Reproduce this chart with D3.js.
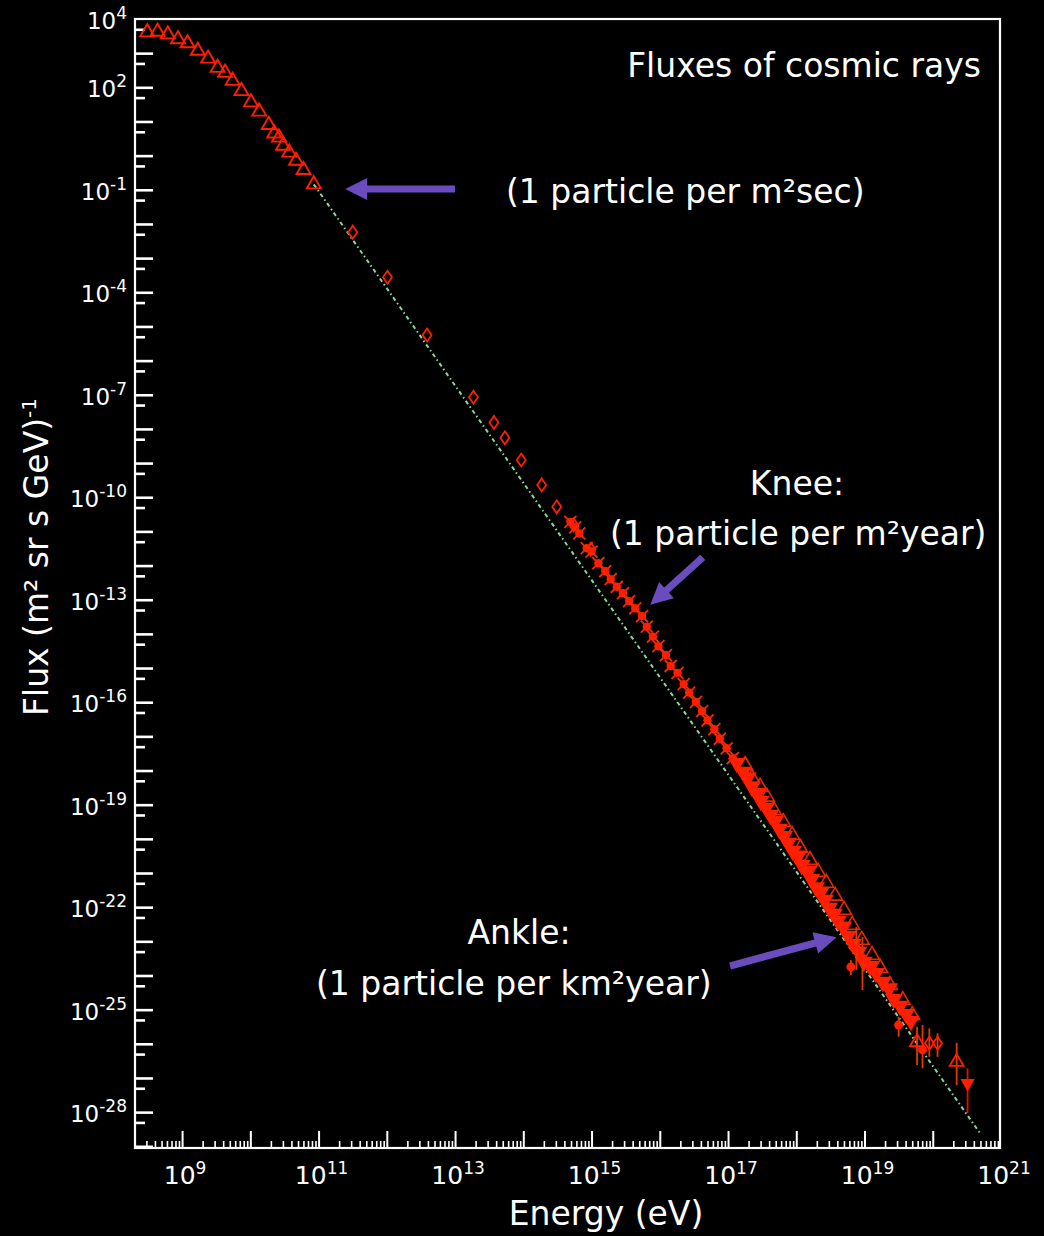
<!DOCTYPE html>
<html><head><meta charset="utf-8">
<script src="https://cdn.jsdelivr.net/npm/d3@7"></script>
<style>html,body{margin:0;padding:0;background:#000;} svg{display:block;}</style>
</head><body>
<svg id="chart" width="1044" height="1236"></svg>
<script>
// ---------- data (log10 of energy in eV, log10 of flux) ----------
const lowEnergyLogE = [8.49, 8.64, 8.79, 8.94, 9.08, 9.23, 9.38, 9.52, 9.63, 9.74, 9.87, 10.01, 10.13, 10.27, 10.35, 10.42, 10.48, 10.57, 10.67, 10.78, 10.93];
const lowEnergyLogFlux = [3.61, 3.63, 3.55, 3.41, 3.29, 3.07, 2.84, 2.57, 2.43, 2.19, 1.89, 1.56, 1.29, 0.90, 0.65, 0.53, 0.29, 0.09, -0.15, -0.42, -0.84];

const directLogE = [11.50, 12.01, 12.59, 13.27, 13.57, 13.73, 13.97, 14.27, 14.49, 14.74, 14.99];
const directLogFlux = [-2.24, -3.56, -5.25, -7.07, -7.81, -8.26, -8.91, -9.64, -10.28, -10.81, -11.52];

const airShowerLogE = [14.69, 14.76, 14.82, 14.93, 15.00, 15.10, 15.20, 15.28, 15.37, 15.46, 15.55, 15.64, 15.74, 15.81, 15.90, 15.98, 16.09, 16.16, 16.26, 16.35, 16.43, 16.53, 16.62, 16.70, 16.80, 16.88, 16.98, 17.07];
const airShowerLogFlux = [-10.72, -10.88, -11.06, -11.49, -11.59, -11.93, -12.16, -12.40, -12.62, -12.81, -13.04, -13.25, -13.48, -13.79, -14.08, -14.36, -14.62, -14.94, -15.14, -15.47, -15.72, -15.99, -16.26, -16.53, -16.79, -17.07, -17.35, -17.64];

const clusterFilledLogE = [17.13, 17.22, 17.29, 17.35, 17.43, 17.48, 17.56, 17.62, 17.69, 17.75, 17.82, 17.88, 17.95, 18.03, 18.08, 18.16, 18.22, 18.29, 18.35, 18.42, 18.48, 18.55, 18.61, 18.69, 18.76, 18.83, 18.91, 18.99, 19.08, 19.17, 19.27, 19.36, 19.43, 19.52, 19.61, 19.68];
const clusterFilledLogFlux = [-17.78, -18.04, -18.21, -18.48, -18.66, -18.89, -19.09, -19.30, -19.48, -19.71, -19.92, -20.12, -20.36, -20.49, -20.77, -20.94, -21.18, -21.42, -21.59, -21.79, -22.02, -22.20, -22.40, -22.57, -22.84, -23.08, -23.31, -23.60, -23.72, -23.93, -24.19, -24.38, -24.69, -24.89, -25.13, -25.33];

const clusterOpenLogE = [17.25, 17.35, 17.47, 17.57, 17.67, 17.81, 17.94, 18.06, 18.20, 18.32, 18.44, 18.57, 18.70, 18.82, 18.96, 19.11, 19.23, 19.37, 19.56, 19.70];
const clusterOpenLogFlux = [-17.84, -18.22, -18.48, -18.77, -19.16, -19.51, -19.89, -20.27, -20.62, -20.97, -21.29, -21.67, -22.08, -22.52, -22.96, -23.40, -23.78, -24.28, -24.72, -25.16];

const uhecrLogE = [18.80, 18.88, 18.97, 19.50, 19.77, 19.85, 19.95, 20.07, 20.35];
const uhecrLogFlux = [-23.75, -23.20, -23.49, -25.45, -25.95, -26.18, -25.98, -25.98, -26.53];
const uhecrLogLow = [-23.99, -23.84, -24.43, -25.79, -26.62, -26.72, -26.38, -26.38, -27.21];
const uhecrLogHigh = [-23.55, -22.58, -22.87, -25.21, -25.50, -25.45, -25.55, -25.69, -25.97];
const uhecrMarker = ["dot", "dot", "dot", "dot", "tri", "dot", "dia", "dia", "tri"];

const limitLogE = [20.51];
const limitLogFlux = [-27.15];
const limitLogLow = [-28.03];
const limitLogHigh = [-26.72];

const fitLogE = [10.93, 20.69];
const fitLogFlux = [-0.84, -28.61];

const xTickExps = [9, 11, 13, 15, 17, 19, 21];
const yTickExps = [4, 2, -1, -4, -7, -10, -13, -16, -19, -22, -25, -28];

const annotations = [
  { tailE: 13.0, tailF: -0.977, tipE: 11.39, tipF: -0.977 },
  { tailE: 16.63, tailF: -11.76, tipE: 15.86, tipF: -13.15 },
  { tailE: 17.03, tailF: -23.72, tipE: 18.59, tipF: -22.88 }
];

// ---------- setup ----------
const W = 1044, H = 1236;
const FONT = "'DejaVu Sans', 'Liberation Sans', sans-serif";
const RED = "#ff1f00";
const svg = d3.select("#chart");
svg.append("rect").attr("width", W).attr("height", H).attr("fill", "#000");

const pL = 135, pR = 1001, pT = 19, pB = 1148;
const x = d3.scaleLog().domain([Math.pow(10, 8.31), 1e21]).range([pL, pR]);
const y = d3.scaleLog().domain([Math.pow(10, -29.05), 1e4]).range([pB, pT]);
const X = e => x(Math.pow(10, e));
const Y = f => y(Math.pow(10, f));

// ---------- ticks ----------
const xMajor = d3.range(9, 21).map(e => Math.pow(10, e));
const xMinor = [];
for (let e = 8; e < 21; e++) for (let m = 2; m < 10; m++) {
  const v = m * Math.pow(10, e);
  if (v > x.domain()[0] && v < 1e21) xMinor.push(v);
}
const styleTicks = (g, w) => { g.select(".domain").remove(); g.selectAll("line").attr("stroke", "#fff").attr("stroke-width", w); };
svg.append("g").attr("transform", `translate(0,${pB})`)
  .call(d3.axisBottom(x).tickValues(xMinor).tickSize(-7).tickFormat(""))
  .call(g => styleTicks(g, 1.6));
svg.append("g").attr("transform", `translate(0,${pB})`)
  .call(d3.axisBottom(x).tickValues(xMajor).tickSize(-17).tickFormat(""))
  .call(g => styleTicks(g, 2));

const yMajor = d3.range(-29, 4).map(e => Math.pow(10, e));
const yMinor = d3.range(-29, 4).map(e => 5 * Math.pow(10, e)).filter(v => v > y.domain()[0] && v < 1e4);
svg.append("g").attr("transform", `translate(${pL},0)`)
  .call(d3.axisLeft(y).tickValues(yMajor).tickSize(-18).tickFormat(""))
  .call(g => styleTicks(g, 2.6));
svg.append("g").attr("transform", `translate(${pL},0)`)
  .call(d3.axisLeft(y).tickValues(yMinor).tickSize(-10).tickFormat(""))
  .call(g => styleTicks(g, 2.6));

// frame
svg.append("rect").attr("x", pL).attr("y", pT).attr("width", 1000 - pL).attr("height", pB - pT)
  .attr("fill", "none").attr("stroke", "#fff").attr("stroke-width", 2.2);

// tick labels
yTickExps.forEach(e => {
  const t = svg.append("text").attr("x", 127).attr("y", Y(e) + 10).attr("text-anchor", "end")
    .attr("fill", "#fff").style("font-family", FONT).style("font-size", "23px");
  t.append("tspan").text("10");
  t.append("tspan").attr("dy", -10).style("font-size", "17px").text(String(e));
});
xTickExps.forEach(e => {
  const t = svg.append("text").attr("x", X(e) + 3).attr("y", 1184).attr("text-anchor", "middle")
    .attr("fill", "#fff").style("font-family", FONT).style("font-size", "25px");
  t.append("tspan").text("10");
  t.append("tspan").attr("dy", -10).style("font-size", "17px").text(String(e));
});

// axis titles
svg.append("text").attr("x", 606).attr("y", 1225).attr("text-anchor", "middle")
  .attr("fill", "#fff").style("font-family", FONT).style("font-size", "33px").text("Energy (eV)");
const yt = svg.append("text").attr("transform", "translate(48,716) rotate(-90)")
  .attr("fill", "#fff").style("font-family", FONT).style("font-size", "33px");
yt.append("tspan").text("Flux (m² sr s GeV)");
yt.append("tspan").attr("dy", -12).style("font-size", "20px").text("-1");

// ---------- fit line ----------
const line = d3.line().x(d => X(d[0])).y(d => Y(d[1]));
svg.append("path").datum(fitLogE.map((e, i) => [e, fitLogFlux[i]]))
  .attr("d", line).attr("fill", "none").attr("stroke", "#86d99a").attr("stroke-width", 2)
  .attr("stroke-dasharray", "4,3,1.5,3");

// ---------- markers ----------
const triPath = d3.symbol(d3.symbolTriangle, 85)();
const diaPath = "M0,-6.5L4.5,0L0,6.5L-4.5,0Z";

svg.append("g").selectAll("path").data(lowEnergyLogE).join("path")
  .attr("transform", (d, i) => `translate(${X(d)},${Y(lowEnergyLogFlux[i])})`)
  .attr("d", triPath).attr("fill", "none").attr("stroke", RED).attr("stroke-width", 1.9);

svg.append("g").selectAll("path").data(directLogE).join("path")
  .attr("transform", (d, i) => `translate(${X(d)},${Y(directLogFlux[i])})`)
  .attr("d", diaPath).attr("fill", "none").attr("stroke", RED).attr("stroke-width", 1.8);

const stars = svg.append("g").selectAll("g").data(airShowerLogE).join("g")
  .attr("transform", (d, i) => `translate(${X(d)},${Y(airShowerLogFlux[i])})`);
stars.append("path").attr("d", "M-6,-6L6,6M-6,6L6,-6").attr("stroke", "#f03000").attr("stroke-width", 1.8);
stars.append("circle").attr("r", 4.2).attr("fill", RED);

svg.append("g").selectAll("path").data(clusterOpenLogE).join("path")
  .attr("transform", (d, i) => `translate(${X(d)},${Y(clusterOpenLogFlux[i])})`)
  .attr("d", d3.symbol(d3.symbolTriangle, 95)()).attr("fill", "none").attr("stroke", "#e82a00").attr("stroke-width", 1.6);

svg.append("g").selectAll("path").data(clusterFilledLogE).join("path")
  .attr("transform", (d, i) => `translate(${X(d)},${Y(clusterFilledLogFlux[i])}) rotate(180)`)
  .attr("d", d3.symbol(d3.symbolTriangle, 100)()).attr("fill", RED).attr("stroke", RED).attr("stroke-width", 1.5);

const errColor = "#e03a00";
svg.append("g").selectAll("line").data(uhecrLogE).join("line")
  .attr("x1", d => X(d)).attr("x2", d => X(d))
  .attr("y1", (d, i) => Y(uhecrLogLow[i])).attr("y2", (d, i) => Y(uhecrLogHigh[i]))
  .attr("stroke", errColor).attr("stroke-width", 1.8);
svg.append("g").selectAll("path").data(uhecrLogE).join("path")
  .attr("transform", (d, i) => `translate(${X(d)},${Y(uhecrLogFlux[i])})`)
  .attr("d", (d, i) => uhecrMarker[i] === "tri" ? triPath : uhecrMarker[i] === "dia" ? diaPath : d3.symbol(d3.symbolCircle, 40)())
  .attr("fill", (d, i) => uhecrMarker[i] === "dot" ? RED : "none")
  .attr("stroke", RED).attr("stroke-width", 1.8);

svg.append("g").selectAll("line").data(limitLogE).join("line")
  .attr("x1", d => X(d)).attr("x2", d => X(d))
  .attr("y1", (d, i) => Y(limitLogLow[i])).attr("y2", (d, i) => Y(limitLogHigh[i]))
  .attr("stroke", "#e01000").attr("stroke-width", 1.8);
svg.append("g").selectAll("path").data(limitLogE).join("path")
  .attr("transform", (d, i) => `translate(${X(d)},${Y(limitLogFlux[i])}) rotate(180)`)
  .attr("d", d3.symbol(d3.symbolTriangle, 90)()).attr("fill", RED);

// ---------- arrows ----------
const PURPLE = "#6b4cbf";
annotations.forEach(a => {
  const x1 = X(a.tailE), y1 = Y(a.tailF), x2 = X(a.tipE), y2 = Y(a.tipF);
  const len = Math.hypot(x2 - x1, y2 - y1);
  const ux = (x2 - x1) / len, uy = (y2 - y1) / len;
  const nx = -uy, ny = ux;
  const sw = 3.6, L = 22, hw = 11;
  const bx = x2 - ux * L, by = y2 - uy * L;
  const pts = [
    [x1 + nx * sw, y1 + ny * sw], [bx + nx * sw, by + ny * sw], [bx + nx * hw, by + ny * hw],
    [x2, y2], [bx - nx * hw, by - ny * hw], [bx - nx * sw, by - ny * sw], [x1 - nx * sw, y1 - ny * sw]
  ];
  svg.append("polygon").attr("points", pts.map(p => p.join(",")).join(" ")).attr("fill", PURPLE);
});

// ---------- text annotations ----------
const addText = (tx, ty, anchor, s) => svg.append("text").attr("x", tx).attr("y", ty)
  .attr("text-anchor", anchor).attr("fill", "#fff").style("font-family", FONT).style("font-size", "33px").text(s);
addText(981, 77, "end", "Fluxes of cosmic rays");
addText(506, 203, "start", "(1 particle per m²sec)");
addText(797, 495, "middle", "Knee:");
addText(610, 545, "start", "(1 particle per m²year)");
addText(519, 944, "middle", "Ankle:");
addText(316, 995, "start", "(1 particle per km²year)");
</script>
</body></html>
